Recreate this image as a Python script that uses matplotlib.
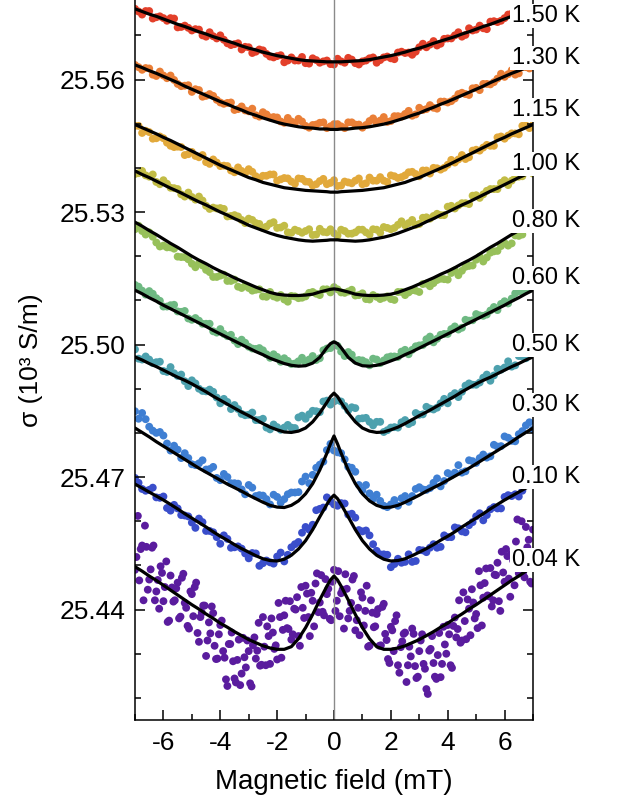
import matplotlib
matplotlib.use('Agg')
import matplotlib.pyplot as plt
from matplotlib.ticker import MultipleLocator

plt.rcParams['font.family'] = ['Liberation Sans', 'DejaVu Sans']
plt.rcParams['axes.unicode_minus'] = False

temps = ['1.50 K', '1.30 K', '1.15 K', '1.00 K', '0.80 K',
         '0.60 K', '0.50 K', '0.30 K', '0.10 K', '0.04 K']
colors = ['#E3402A', '#EA7F37', '#E2A93B', '#C2BC46', '#97C05A',
          '#6EB982', '#4DA1AE', '#3F7FD3', '#3A4ECB', '#5A1C9E']

# measured points (field in mT, sigma in 10^3 S/m), two interleaved sweeps
DOT_X = [-7.0, -6.75, -6.5, -6.25, -6.0, -5.75, -5.5, -5.25, -5.0, -4.75,
         -4.5, -4.25, -4.0, -3.75, -3.5, -3.25, -3.0, -2.75, -2.5, -2.25,
         -2.0, -1.75, -1.5, -1.25, -1.0, -0.75, -0.5, -0.25, 0.0, 0.25,
         0.5, 0.75, 1.0, 1.25, 1.5, 1.75, 2.0, 2.25, 2.5, 2.75,
         3.0, 3.25, 3.5, 3.75, 4.0, 4.25, 4.5, 4.75, 5.0, 5.25,
         5.5, 5.75, 6.0, 6.25, 6.5, 6.75, 7.0]
DOT_X2 = [-6.875, -6.625, -6.375, -6.125, -5.875, -5.625, -5.375, -5.125, -4.875, -4.625,
          -4.375, -4.125, -3.875, -3.625, -3.375, -3.125, -2.875, -2.625, -2.375, -2.125,
          -1.875, -1.625, -1.375, -1.125, -0.875, -0.625, -0.375, -0.125, 0.125, 0.375,
          0.625, 0.875, 1.125, 1.375, 1.625, 1.875, 2.125, 2.375, 2.625, 2.875,
          3.125, 3.375, 3.625, 3.875, 4.125, 4.375, 4.625, 4.875, 5.125, 5.375,
          5.625, 5.875, 6.125, 6.375, 6.625, 6.875]

dots_150 = [25.5760, 25.5747, 25.5755, 25.5741, 25.5739, 25.5739, 25.5718, 25.5722, 25.5711, 25.5713,
            25.5697, 25.5698, 25.5700, 25.5682, 25.5680, 25.5668, 25.5673, 25.5663, 25.5666, 25.5652,
            25.5653, 25.5639, 25.5650, 25.5643, 25.5637, 25.5648, 25.5638, 25.5643, 25.5634, 25.5641,
            25.5649, 25.5637, 25.5641, 25.5648, 25.5638, 25.5650, 25.5648, 25.5661, 25.5660, 25.5656,
            25.5673, 25.5673, 25.5687, 25.5681, 25.5693, 25.5700, 25.5697, 25.5716, 25.5713, 25.5716,
            25.5731, 25.5730, 25.5739, 25.5749, 25.5741, 25.5754, 25.5761]
dots2_150 = [25.5754, 25.5755, 25.5738, 25.5743, 25.5733, 25.5738, 25.5719, 25.5717, 25.5714, 25.5700,
             25.5707, 25.5693, 25.5690, 25.5678, 25.5682, 25.5674, 25.5660, 25.5668, 25.5658, 25.5650,
             25.5655, 25.5643, 25.5643, 25.5651, 25.5636, 25.5644, 25.5641, 25.5635, 25.5647, 25.5638,
             25.5645, 25.5634, 25.5643, 25.5650, 25.5644, 25.5652, 25.5646, 25.5663, 25.5661, 25.5663,
             25.5681, 25.5679, 25.5677, 25.5692, 25.5693, 25.5707, 25.5701, 25.5711, 25.5722, 25.5714,
             25.5732, 25.5733, 25.5747, 25.5745, 25.5754, 25.5748]
dots_130 = [25.5633, 25.5622, 25.5625, 25.5608, 25.5609, 25.5609, 25.5590, 25.5586, 25.5572, 25.5576,
            25.5563, 25.5563, 25.5548, 25.5547, 25.5531, 25.5539, 25.5528, 25.5519, 25.5526, 25.5514,
            25.5514, 25.5502, 25.5505, 25.5511, 25.5495, 25.5497, 25.5502, 25.5490, 25.5499, 25.5494,
            25.5503, 25.5498, 25.5491, 25.5506, 25.5502, 25.5515, 25.5506, 25.5517, 25.5522, 25.5518,
            25.5536, 25.5533, 25.5536, 25.5550, 25.5548, 25.5557, 25.5570, 25.5565, 25.5581, 25.5590,
            25.5589, 25.5602, 25.5606, 25.5621, 25.5614, 25.5628, 25.5631]
dots2_130 = [25.5628, 25.5626, 25.5611, 25.5618, 25.5603, 25.5599, 25.5585, 25.5587, 25.5578, 25.5561,
             25.5567, 25.5554, 25.5545, 25.5548, 25.5533, 25.5530, 25.5534, 25.5516, 25.5521, 25.5515,
             25.5505, 25.5513, 25.5501, 25.5505, 25.5491, 25.5498, 25.5503, 25.5494, 25.5499, 25.5490,
             25.5503, 25.5498, 25.5497, 25.5512, 25.5507, 25.5504, 25.5517, 25.5516, 25.5529, 25.5521,
             25.5531, 25.5542, 25.5534, 25.5550, 25.5551, 25.5567, 25.5567, 25.5580, 25.5576, 25.5590,
             25.5594, 25.5613, 25.5612, 25.5611, 25.5628, 25.5625]
dots_115 = [25.5495, 25.5479, 25.5481, 25.5467, 25.5467, 25.5450, 25.5448, 25.5429, 25.5436, 25.5424,
            25.5413, 25.5419, 25.5404, 25.5404, 25.5390, 25.5393, 25.5397, 25.5381, 25.5382, 25.5385,
            25.5371, 25.5377, 25.5369, 25.5376, 25.5369, 25.5360, 25.5370, 25.5363, 25.5372, 25.5360,
            25.5367, 25.5371, 25.5363, 25.5378, 25.5371, 25.5371, 25.5383, 25.5377, 25.5383, 25.5391,
            25.5381, 25.5394, 25.5400, 25.5396, 25.5407, 25.5412, 25.5429, 25.5424, 25.5441, 25.5446,
            25.5450, 25.5469, 25.5466, 25.5478, 25.5476, 25.5496, 25.5497]
dots2_115 = [25.5495, 25.5484, 25.5466, 25.5471, 25.5457, 25.5447, 25.5447, 25.5431, 25.5427, 25.5429,
             25.5409, 25.5412, 25.5405, 25.5394, 25.5401, 25.5388, 25.5391, 25.5376, 25.5382, 25.5385,
             25.5374, 25.5376, 25.5364, 25.5375, 25.5368, 25.5363, 25.5375, 25.5366, 25.5359, 25.5369,
             25.5365, 25.5376, 25.5365, 25.5371, 25.5379, 25.5368, 25.5381, 25.5379, 25.5390, 25.5386,
             25.5394, 25.5387, 25.5399, 25.5400, 25.5418, 25.5419, 25.5420, 25.5439, 25.5439, 25.5452,
             25.5450, 25.5471, 25.5473, 25.5478, 25.5495, 25.5490]
dots_100 = [25.5386, 25.5393, 25.5380, 25.5368, 25.5372, 25.5355, 25.5352, 25.5335, 25.5334, 25.5335,
            25.5314, 25.5310, 25.5309, 25.5290, 25.5293, 25.5282, 25.5285, 25.5275, 25.5264, 25.5274,
            25.5264, 25.5269, 25.5253, 25.5257, 25.5257, 25.5248, 25.5262, 25.5254, 25.5252, 25.5260,
            25.5251, 25.5254, 25.5260, 25.5249, 25.5260, 25.5266, 25.5261, 25.5271, 25.5270, 25.5282,
            25.5273, 25.5288, 25.5291, 25.5293, 25.5312, 25.5308, 25.5320, 25.5318, 25.5338, 25.5340,
            25.5352, 25.5352, 25.5372, 25.5371, 25.5380, 25.5394, 25.5387]
dots2_100 = [25.5388, 25.5383, 25.5385, 25.5363, 25.5364, 25.5354, 25.5340, 25.5344, 25.5328, 25.5326,
             25.5307, 25.5308, 25.5307, 25.5291, 25.5290, 25.5275, 25.5282, 25.5273, 25.5267, 25.5277,
             25.5265, 25.5254, 25.5260, 25.5253, 25.5261, 25.5249, 25.5255, 25.5261, 25.5247, 25.5257,
             25.5251, 25.5260, 25.5254, 25.5261, 25.5253, 25.5264, 25.5264, 25.5279, 25.5275, 25.5271,
             25.5287, 25.5285, 25.5296, 25.5293, 25.5314, 25.5315, 25.5320, 25.5337, 25.5332, 25.5348,
             25.5352, 25.5366, 25.5361, 25.5379, 25.5381, 25.5400]
dots_080 = [25.5261, 25.5257, 25.5254, 25.5231, 25.5224, 25.5220, 25.5199, 25.5198, 25.5183, 25.5184,
            25.5169, 25.5153, 25.5156, 25.5144, 25.5147, 25.5128, 25.5128, 25.5124, 25.5109, 25.5119,
            25.5106, 25.5102, 25.5110, 25.5105, 25.5109, 25.5119, 25.5112, 25.5125, 25.5130, 25.5118,
            25.5120, 25.5111, 25.5116, 25.5102, 25.5108, 25.5106, 25.5103, 25.5119, 25.5112, 25.5123,
            25.5119, 25.5138, 25.5139, 25.5149, 25.5147, 25.5168, 25.5167, 25.5178, 25.5192, 25.5188,
            25.5208, 25.5212, 25.5230, 25.5229, 25.5246, 25.5264, 25.5263]
dots2_080 = [25.5269, 25.5249, 25.5244, 25.5222, 25.5220, 25.5217, 25.5198, 25.5193, 25.5175, 25.5179,
             25.5164, 25.5153, 25.5158, 25.5144, 25.5131, 25.5133, 25.5122, 25.5125, 25.5108, 25.5109,
             25.5112, 25.5097, 25.5109, 25.5106, 25.5117, 25.5115, 25.5125, 25.5118, 25.5125, 25.5117,
             25.5124, 25.5112, 25.5103, 25.5112, 25.5103, 25.5109, 25.5101, 25.5119, 25.5118, 25.5122,
             25.5137, 25.5132, 25.5146, 25.5148, 25.5162, 25.5157, 25.5176, 25.5179, 25.5199, 25.5197,
             25.5211, 25.5223, 25.5224, 25.5247, 25.5249, 25.5263]
dots_060 = [25.5135, 25.5122, 25.5121, 25.5105, 25.5086, 25.5089, 25.5075, 25.5076, 25.5056, 25.5054,
            25.5047, 25.5030, 25.5035, 25.5019, 25.5009, 25.5011, 25.4995, 25.4990, 25.4987, 25.4970,
            25.4972, 25.4969, 25.4956, 25.4962, 25.4960, 25.4974, 25.4969, 25.4991, 25.5001, 25.4984,
            25.4983, 25.4964, 25.4964, 25.4953, 25.4966, 25.4964, 25.4973, 25.4972, 25.4988, 25.4988,
            25.4998, 25.5012, 25.5005, 25.5022, 25.5024, 25.5041, 25.5038, 25.5054, 25.5069, 25.5065,
            25.5077, 25.5078, 25.5098, 25.5104, 25.5121, 25.5122, 25.5135]
dots2_060 = [25.5131, 25.5113, 25.5115, 25.5099, 25.5086, 25.5090, 25.5074, 25.5059, 25.5060, 25.5047,
             25.5047, 25.5027, 25.5024, 25.5022, 25.5001, 25.5004, 25.4991, 25.4992, 25.4978, 25.4978,
             25.4961, 25.4963, 25.4957, 25.4970, 25.4966, 25.4965, 25.4987, 25.4992, 25.4997, 25.4974,
             25.4977, 25.4965, 25.4960, 25.4968, 25.4958, 25.4971, 25.4973, 25.4984, 25.4978, 25.4996,
             25.4999, 25.5018, 25.5013, 25.5024, 25.5035, 25.5034, 25.5056, 25.5055, 25.5066, 25.5068,
             25.5085, 25.5092, 25.5093, 25.5116, 25.5120, 25.5126]
dots_050 = [25.4989, 25.4966, 25.4966, 25.4960, 25.4940, 25.4949, 25.4929, 25.4917, 25.4919, 25.4900,
            25.4894, 25.4893, 25.4867, 25.4870, 25.4863, 25.4843, 25.4841, 25.4829, 25.4832, 25.4808,
            25.4813, 25.4812, 25.4812, 25.4835, 25.4832, 25.4850, 25.4847, 25.4873, 25.4871, 25.4871,
            25.4851, 25.4856, 25.4833, 25.4825, 25.4825, 25.4802, 25.4812, 25.4812, 25.4829, 25.4824,
            25.4841, 25.4859, 25.4853, 25.4867, 25.4867, 25.4890, 25.4893, 25.4912, 25.4909, 25.4925,
            25.4918, 25.4945, 25.4948, 25.4950, 25.4974, 25.4969, 25.4984]
dots2_050 = [25.4968, 25.4973, 25.4958, 25.4961, 25.4938, 25.4935, 25.4932, 25.4906, 25.4912, 25.4895,
             25.4898, 25.4880, 25.4877, 25.4854, 25.4854, 25.4840, 25.4846, 25.4829, 25.4812, 25.4819,
             25.4807, 25.4818, 25.4811, 25.4839, 25.4842, 25.4849, 25.4871, 25.4864, 25.4874, 25.4861,
             25.4858, 25.4832, 25.4834, 25.4817, 25.4825, 25.4806, 25.4813, 25.4824, 25.4820, 25.4845,
             25.4842, 25.4855, 25.4857, 25.4877, 25.4884, 25.4881, 25.4907, 25.4909, 25.4914, 25.4932,
             25.4930, 25.4943, 25.4962, 25.4953, 25.4973, 25.4977]
dots_030 = [25.4849, 25.4845, 25.4814, 25.4800, 25.4794, 25.4760, 25.4762, 25.4754, 25.4729, 25.4731,
            25.4717, 25.4723, 25.4693, 25.4700, 25.4686, 25.4672, 25.4682, 25.4657, 25.4658, 25.4638,
            25.4655, 25.4650, 25.4665, 25.4666, 25.4701, 25.4705, 25.4728, 25.4761, 25.4760, 25.4754,
            25.4723, 25.4712, 25.4670, 25.4663, 25.4660, 25.4635, 25.4638, 25.4635, 25.4657, 25.4657,
            25.4677, 25.4671, 25.4687, 25.4679, 25.4709, 25.4710, 25.4710, 25.4738, 25.4732, 25.4751,
            25.4747, 25.4769, 25.4792, 25.4782, 25.4797, 25.4817, 25.4808]
dots2_030 = [25.4832, 25.4831, 25.4805, 25.4802, 25.4776, 25.4771, 25.4743, 25.4743, 25.4727, 25.4738,
             25.4718, 25.4698, 25.4707, 25.4686, 25.4685, 25.4661, 25.4676, 25.4659, 25.4650, 25.4660,
             25.4642, 25.4661, 25.4665, 25.4690, 25.4686, 25.4721, 25.4735, 25.4775, 25.4756, 25.4740,
             25.4721, 25.4682, 25.4682, 25.4651, 25.4646, 25.4632, 25.4648, 25.4652, 25.4644, 25.4673,
             25.4672, 25.4675, 25.4697, 25.4691, 25.4704, 25.4727, 25.4713, 25.4736, 25.4743, 25.4744,
             25.4773, 25.4770, 25.4789, 25.4781, 25.4804, 25.4824]
dots_010 = [25.4698, 25.4673, 25.4671, 25.4654, 25.4656, 25.4624, 25.4629, 25.4613, 25.4597, 25.4606,
            25.4578, 25.4575, 25.4549, 25.4560, 25.4541, 25.4538, 25.4516, 25.4527, 25.4505, 25.4507,
            25.4520, 25.4509, 25.4541, 25.4553, 25.4587, 25.4592, 25.4628, 25.4654, 25.4638, 25.4641,
            25.4615, 25.4608, 25.4577, 25.4568, 25.4533, 25.4525, 25.4496, 25.4515, 25.4508, 25.4508,
            25.4535, 25.4530, 25.4548, 25.4542, 25.4564, 25.4586, 25.4577, 25.4591, 25.4611, 25.4602,
            25.4627, 25.4629, 25.4655, 25.4657, 25.4656, 25.4687, 25.4689]
dots2_010 = [25.4687, 25.4669, 25.4676, 25.4653, 25.4630, 25.4637, 25.4614, 25.4611, 25.4585, 25.4598,
             25.4578, 25.4564, 25.4568, 25.4540, 25.4543, 25.4527, 25.4528, 25.4499, 25.4511, 25.4504,
             25.4529, 25.4524, 25.4548, 25.4574, 25.4581, 25.4625, 25.4631, 25.4645, 25.4635, 25.4640,
             25.4617, 25.4580, 25.4579, 25.4548, 25.4525, 25.4524, 25.4503, 25.4506, 25.4525, 25.4510,
             25.4534, 25.4540, 25.4540, 25.4568, 25.4564, 25.4584, 25.4575, 25.4598, 25.4618, 25.4614,
             25.4632, 25.4629, 25.4659, 25.4661, 25.4669, 25.4701]

X_004 = [-7.0, -6.9, -6.8, -6.7, -6.6, -6.5, -6.4, -6.3, -6.2, -6.1,
         -6.0, -5.9, -5.8, -5.7, -5.6, -5.5, -5.4, -5.3, -5.2, -5.1,
         -5.0, -4.9, -4.8, -4.7, -4.6, -4.5, -4.4, -4.3, -4.2, -4.1,
         -4.0, -3.9, -3.8, -3.7, -3.6, -3.5, -3.4, -3.3, -3.2, -3.1,
         -3.0, -2.9, -2.8, -2.7, -2.6, -2.5, -2.4, -2.3, -2.2, -2.1,
         -2.0, -1.9, -1.8, -1.7, -1.6, -1.5, -1.4, -1.3, -1.2, -1.1,
         -1.0, -0.9, -0.8, -0.7, -0.6, -0.5, -0.4, -0.3, -0.2, -0.1,
         0.0, 0.1, 0.2, 0.3, 0.4, 0.5, 0.6, 0.7, 0.8, 0.9,
         1.0, 1.1, 1.2, 1.3, 1.4, 1.5, 1.6, 1.7, 1.8, 1.9,
         2.0, 2.1, 2.2, 2.3, 2.4, 2.5, 2.6, 2.7, 2.8, 2.9,
         3.0, 3.1, 3.2, 3.3, 3.4, 3.5, 3.6, 3.7, 3.8, 3.9,
         4.0, 4.1, 4.2, 4.3, 4.4, 4.5, 4.6, 4.7, 4.8, 4.9,
         5.0, 5.1, 5.2, 5.3, 5.4, 5.5, 5.6, 5.7, 5.8, 5.9,
         6.0, 6.1, 6.2, 6.3, 6.4, 6.5, 6.6, 6.7, 6.8, 6.9,
         7.0]
dots_004 = [25.4490, 25.4612, 25.4537, 25.4421, 25.4542, 25.4468, 25.4540, 25.4421, 25.4467, 25.4498,
            25.4419, 25.4509, 25.4375, 25.4450, 25.4421, 25.4461, 25.4384, 25.4481, 25.4404, 25.4357,
            25.4435, 25.4451, 25.4347, 25.4383, 25.4409, 25.4295, 25.4371, 25.4407, 25.4318, 25.4289,
            25.4365, 25.4306, 25.4242, 25.4322, 25.4348, 25.4244, 25.4286, 25.4229, 25.4336, 25.4269,
            25.4306, 25.4226, 25.4337, 25.4307, 25.4273, 25.4383, 25.4274, 25.4340, 25.4380, 25.4311,
            25.4287, 25.4383, 25.4354, 25.4420, 25.4356, 25.4332, 25.4402, 25.4428, 25.4318, 25.4404,
            25.4454, 25.4383, 25.4438, 25.4362, 25.4482, 25.4416, 25.4395, 25.4469, 25.4447, 25.4376,
            25.4490, 25.4420, 25.4385, 25.4445, 25.4480, 25.4380, 25.4415, 25.4476, 25.4376, 25.4342,
            25.4427, 25.4397, 25.4316, 25.4421, 25.4360, 25.4390, 25.4318, 25.4406, 25.4345, 25.4288,
            25.4361, 25.4306, 25.4387, 25.4257, 25.4328, 25.4348, 25.4274, 25.4294, 25.4345, 25.4245,
            25.4306, 25.4344, 25.4266, 25.4209, 25.4311, 25.4279, 25.4243, 25.4347, 25.4277, 25.4321,
            25.4365, 25.4274, 25.4363, 25.4337, 25.4421, 25.4330, 25.4374, 25.4423, 25.4342, 25.4416,
            25.4390, 25.4487, 25.4364, 25.4460, 25.4432, 25.4494, 25.4421, 25.4478, 25.4419, 25.4531,
            25.4463, 25.4521, 25.4429, 25.4511, 25.4554, 25.4482, 25.4600, 25.4473, 25.4541, 25.4463,
            25.4581]
X2_004 = [-6.95, -6.85, -6.75, -6.65, -6.55, -6.45, -6.35, -6.25, -6.15, -6.05,
          -5.95, -5.85, -5.75, -5.65, -5.55, -5.45, -5.35, -5.25, -5.15, -5.05,
          -4.95, -4.85, -4.75, -4.65, -4.55, -4.45, -4.35, -4.25, -4.15, -4.05,
          -3.95, -3.85, -3.75, -3.65, -3.55, -3.45, -3.35, -3.25, -3.15, -3.05,
          -2.95, -2.85, -2.75, -2.65, -2.55, -2.45, -2.35, -2.25, -2.15, -2.05,
          -1.95, -1.85, -1.75, -1.65, -1.55, -1.45, -1.35, -1.25, -1.15, -1.05,
          -0.95, -0.85, -0.75, -0.65, -0.55, -0.45, -0.35, -0.25, -0.15, -0.05,
          0.05, 0.15, 0.25, 0.35, 0.45, 0.55, 0.65, 0.75, 0.85, 0.95,
          1.05, 1.15, 1.25, 1.35, 1.45, 1.55, 1.65, 1.75, 1.85, 1.95,
          2.05, 2.15, 2.25, 2.35, 2.45, 2.55, 2.65, 2.75, 2.85, 2.95,
          3.05, 3.15, 3.25, 3.35, 3.45, 3.55, 3.65, 3.75, 3.85, 3.95,
          4.05, 4.15, 4.25, 4.35, 4.45, 4.55, 4.65, 4.75, 4.85, 4.95,
          5.05, 5.15, 5.25, 5.35, 5.45, 5.55, 5.65, 5.75, 5.85, 5.95,
          6.05, 6.15, 6.25, 6.35, 6.45, 6.55, 6.65, 6.75, 6.85, 6.95]
dots2_004 = [25.4519, 25.4466, 25.4545, 25.4590, 25.4445, 25.4491, 25.4545, 25.4441, 25.4402, 25.4483,
             25.4451, 25.4372, 25.4477, 25.4418, 25.4448, 25.4380, 25.4472, 25.4415, 25.4363, 25.4441,
             25.4385, 25.4461, 25.4327, 25.4393, 25.4409, 25.4330, 25.4346, 25.4392, 25.4288, 25.4344,
             25.4375, 25.4291, 25.4227, 25.4322, 25.4283, 25.4235, 25.4332, 25.4255, 25.4292, 25.4330,
             25.4233, 25.4319, 25.4289, 25.4370, 25.4275, 25.4316, 25.4362, 25.4277, 25.4348, 25.4319,
             25.4415, 25.4291, 25.4387, 25.4358, 25.4419, 25.4344, 25.4400, 25.4340, 25.4451, 25.4381,
             25.4436, 25.4340, 25.4420, 25.4459, 25.4394, 25.4478, 25.4387, 25.4435, 25.4379, 25.4463,
             25.4397, 25.4487, 25.4437, 25.4357, 25.4447, 25.4397, 25.4468, 25.4353, 25.4404, 25.4439,
             25.4364, 25.4454, 25.4318, 25.4393, 25.4362, 25.4401, 25.4319, 25.4413, 25.4331, 25.4279,
             25.4353, 25.4374, 25.4274, 25.4315, 25.4345, 25.4236, 25.4316, 25.4357, 25.4272, 25.4248,
             25.4330, 25.4277, 25.4220, 25.4307, 25.4340, 25.4248, 25.4297, 25.4247, 25.4361, 25.4300,
             25.4344, 25.4268, 25.4382, 25.4356, 25.4325, 25.4439, 25.4333, 25.4402, 25.4446, 25.4380,
             25.4358, 25.4455, 25.4427, 25.4493, 25.4430, 25.4407, 25.4479, 25.4506, 25.4397, 25.4484,
             25.4537, 25.4470, 25.4527, 25.4455, 25.4604, 25.4513, 25.4484, 25.4587, 25.4558, 25.4459]

# fitted curves
X_FIT = [-7.0, -6.75, -6.5, -6.25, -6.0, -5.75, -5.5, -5.25, -5.0, -4.75,
         -4.5, -4.25, -4.0, -3.75, -3.5, -3.25, -3.0, -2.75, -2.5, -2.25,
         -2.0, -1.75, -1.5, -1.25, -1.0, -0.75, -0.5, -0.25, -0.125, 0.0,
         0.125, 0.25, 0.5, 0.75, 1.0, 1.25, 1.5, 1.75, 2.0, 2.25,
         2.5, 2.75, 3.0, 3.25, 3.5, 3.75, 4.0, 4.25, 4.5, 4.75,
         5.0, 5.25, 5.5, 5.75, 6.0, 6.25, 6.5, 6.75, 7.0]
fit_150 = [25.5760, 25.5754, 25.5748, 25.5743, 25.5737, 25.5731, 25.5725, 25.5720, 25.5714, 25.5708,
           25.5703, 25.5697, 25.5692, 25.5687, 25.5682, 25.5676, 25.5671, 25.5667, 25.5662, 25.5658,
           25.5654, 25.5651, 25.5648, 25.5645, 25.5643, 25.5642, 25.5641, 25.5640, 25.5640, 25.5640,
           25.5640, 25.5640, 25.5641, 25.5642, 25.5643, 25.5645, 25.5648, 25.5651, 25.5654, 25.5658,
           25.5662, 25.5667, 25.5671, 25.5676, 25.5682, 25.5687, 25.5692, 25.5697, 25.5703, 25.5708,
           25.5714, 25.5720, 25.5725, 25.5731, 25.5737, 25.5743, 25.5748, 25.5754, 25.5760]
fit_130 = [25.5633, 25.5627, 25.5620, 25.5614, 25.5607, 25.5600, 25.5593, 25.5585, 25.5578, 25.5571,
           25.5564, 25.5557, 25.5550, 25.5544, 25.5537, 25.5531, 25.5524, 25.5519, 25.5513, 25.5508,
           25.5503, 25.5499, 25.5496, 25.5493, 25.5491, 25.5490, 25.5488, 25.5488, 25.5487, 25.5487,
           25.5487, 25.5488, 25.5488, 25.5490, 25.5491, 25.5493, 25.5496, 25.5499, 25.5503, 25.5508,
           25.5513, 25.5519, 25.5524, 25.5531, 25.5537, 25.5544, 25.5550, 25.5557, 25.5564, 25.5571,
           25.5578, 25.5585, 25.5593, 25.5600, 25.5607, 25.5614, 25.5620, 25.5627, 25.5633]
fit_115 = [25.5498, 25.5491, 25.5484, 25.5477, 25.5469, 25.5462, 25.5454, 25.5446, 25.5438, 25.5430,
           25.5422, 25.5414, 25.5406, 25.5399, 25.5392, 25.5385, 25.5378, 25.5373, 25.5367, 25.5363,
           25.5359, 25.5355, 25.5353, 25.5351, 25.5349, 25.5348, 25.5347, 25.5346, 25.5345, 25.5345,
           25.5345, 25.5346, 25.5347, 25.5348, 25.5349, 25.5351, 25.5353, 25.5355, 25.5359, 25.5363,
           25.5367, 25.5373, 25.5378, 25.5385, 25.5392, 25.5399, 25.5406, 25.5414, 25.5422, 25.5430,
           25.5438, 25.5446, 25.5454, 25.5462, 25.5469, 25.5477, 25.5484, 25.5491, 25.5498]
fit_100 = [25.5393, 25.5385, 25.5378, 25.5370, 25.5362, 25.5354, 25.5347, 25.5339, 25.5331, 25.5323,
           25.5316, 25.5308, 25.5300, 25.5293, 25.5285, 25.5278, 25.5270, 25.5264, 25.5258, 25.5252,
           25.5247, 25.5243, 25.5240, 25.5237, 25.5235, 25.5234, 25.5235, 25.5236, 25.5237, 25.5237,
           25.5237, 25.5236, 25.5235, 25.5234, 25.5235, 25.5237, 25.5240, 25.5243, 25.5247, 25.5252,
           25.5258, 25.5264, 25.5270, 25.5278, 25.5285, 25.5293, 25.5300, 25.5308, 25.5316, 25.5323,
           25.5331, 25.5339, 25.5347, 25.5354, 25.5362, 25.5370, 25.5378, 25.5385, 25.5393]
fit_080 = [25.5277, 25.5268, 25.5258, 25.5249, 25.5239, 25.5229, 25.5220, 25.5210, 25.5200, 25.5191,
           25.5183, 25.5174, 25.5166, 25.5159, 25.5151, 25.5144, 25.5137, 25.5130, 25.5124, 25.5118,
           25.5114, 25.5112, 25.5111, 25.5111, 25.5112, 25.5114, 25.5119, 25.5123, 25.5125, 25.5126,
           25.5125, 25.5123, 25.5119, 25.5114, 25.5112, 25.5111, 25.5111, 25.5112, 25.5114, 25.5118,
           25.5124, 25.5130, 25.5137, 25.5144, 25.5151, 25.5159, 25.5166, 25.5174, 25.5183, 25.5191,
           25.5200, 25.5210, 25.5220, 25.5229, 25.5239, 25.5249, 25.5258, 25.5268, 25.5277]
fit_060 = [25.5123, 25.5115, 25.5106, 25.5098, 25.5089, 25.5081, 25.5073, 25.5065, 25.5057, 25.5049,
           25.5041, 25.5032, 25.5024, 25.5016, 25.5008, 25.5000, 25.4992, 25.4984, 25.4977, 25.4969,
           25.4963, 25.4957, 25.4953, 25.4951, 25.4952, 25.4958, 25.4971, 25.4993, 25.5002, 25.5006,
           25.5002, 25.4993, 25.4971, 25.4958, 25.4952, 25.4951, 25.4953, 25.4957, 25.4963, 25.4969,
           25.4977, 25.4984, 25.4992, 25.5000, 25.5008, 25.5016, 25.5024, 25.5032, 25.5041, 25.5049,
           25.5057, 25.5065, 25.5073, 25.5081, 25.5089, 25.5098, 25.5106, 25.5115, 25.5123]
fit_050 = [25.4972, 25.4965, 25.4957, 25.4950, 25.4942, 25.4934, 25.4926, 25.4919, 25.4911, 25.4902,
           25.4893, 25.4883, 25.4874, 25.4865, 25.4856, 25.4847, 25.4839, 25.4830, 25.4821, 25.4813,
           25.4807, 25.4802, 25.4801, 25.4804, 25.4811, 25.4825, 25.4845, 25.4869, 25.4882, 25.4890,
           25.4882, 25.4869, 25.4845, 25.4825, 25.4811, 25.4804, 25.4801, 25.4802, 25.4807, 25.4813,
           25.4821, 25.4830, 25.4839, 25.4847, 25.4856, 25.4865, 25.4874, 25.4883, 25.4893, 25.4902,
           25.4911, 25.4919, 25.4926, 25.4934, 25.4942, 25.4950, 25.4957, 25.4965, 25.4972]
fit_030 = [25.4811, 25.4801, 25.4791, 25.4780, 25.4770, 25.4760, 25.4750, 25.4740, 25.4730, 25.4720,
           25.4711, 25.4702, 25.4693, 25.4684, 25.4676, 25.4668, 25.4659, 25.4651, 25.4643, 25.4636,
           25.4632, 25.4631, 25.4636, 25.4646, 25.4662, 25.4685, 25.4716, 25.4754, 25.4775, 25.4793,
           25.4775, 25.4754, 25.4716, 25.4685, 25.4662, 25.4646, 25.4636, 25.4631, 25.4632, 25.4636,
           25.4643, 25.4651, 25.4659, 25.4668, 25.4676, 25.4684, 25.4693, 25.4702, 25.4711, 25.4720,
           25.4730, 25.4740, 25.4750, 25.4760, 25.4770, 25.4780, 25.4791, 25.4801, 25.4811]
fit_010 = [25.4684, 25.4675, 25.4666, 25.4657, 25.4648, 25.4638, 25.4628, 25.4617, 25.4607, 25.4597,
           25.4587, 25.4576, 25.4566, 25.4557, 25.4547, 25.4538, 25.4530, 25.4522, 25.4515, 25.4511,
           25.4510, 25.4514, 25.4523, 25.4537, 25.4556, 25.4581, 25.4610, 25.4638, 25.4651, 25.4659,
           25.4651, 25.4638, 25.4610, 25.4581, 25.4556, 25.4537, 25.4523, 25.4514, 25.4510, 25.4511,
           25.4515, 25.4522, 25.4530, 25.4538, 25.4547, 25.4557, 25.4566, 25.4576, 25.4587, 25.4597,
           25.4607, 25.4617, 25.4628, 25.4638, 25.4648, 25.4657, 25.4666, 25.4675, 25.4684]
fit_004 = [25.4497, 25.4487, 25.4476, 25.4466, 25.4455, 25.4444, 25.4433, 25.4422, 25.4411, 25.4401,
           25.4390, 25.4380, 25.4369, 25.4360, 25.4350, 25.4341, 25.4332, 25.4325, 25.4318, 25.4313,
           25.4310, 25.4310, 25.4316, 25.4334, 25.4359, 25.4389, 25.4422, 25.4453, 25.4467, 25.4476,
           25.4467, 25.4453, 25.4422, 25.4389, 25.4359, 25.4334, 25.4316, 25.4310, 25.4310, 25.4313,
           25.4318, 25.4325, 25.4332, 25.4341, 25.4350, 25.4360, 25.4369, 25.4380, 25.4390, 25.4401,
           25.4411, 25.4422, 25.4433, 25.4444, 25.4455, 25.4466, 25.4476, 25.4487, 25.4497]

# where each temperature label sits (sigma units)
label_y = [25.5744, 25.5649, 25.5531, 25.5409, 25.5280,
           25.5151, 25.4999, 25.4863, 25.4700, 25.4512]

dot_sets = [(dots_150, dots2_150), (dots_130, dots2_130), (dots_115, dots2_115),
            (dots_100, dots2_100), (dots_080, dots2_080), (dots_060, dots2_060),
            (dots_050, dots2_050), (dots_030, dots2_030), (dots_010, dots2_010)]
fits = [fit_150, fit_130, fit_115, fit_100, fit_080,
        fit_060, fit_050, fit_030, fit_010, fit_004]

fig = plt.figure(figsize=(6.23, 8.06), dpi=100)
ax = fig.add_axes([135/623, 1 - 720/806, 398/623, 720/806])

for (d1, d2), c in zip(dot_sets, colors[:9]):
    ax.scatter(DOT_X, d1, s=32, color=c, edgecolors='none', zorder=1)
    ax.scatter(DOT_X2, d2, s=32, color=c, edgecolors='none', zorder=1)
ax.scatter(X_004, dots_004, s=32, color=colors[9], edgecolors='none', zorder=1)
ax.scatter(X2_004, dots2_004, s=32, color=colors[9], edgecolors='none', zorder=1)

ax.axvline(0, color='#8a8a8a', lw=1.0, zorder=2)

for fit in fits:
    ax.plot(X_FIT, fit, color='black', lw=2.3, zorder=3,
            solid_joinstyle='round', solid_capstyle='round')

for t, y in zip(temps, label_y):
    ax.text(6.25, y, t, fontsize=17, ha='left', va='center', zorder=6,
            bbox=dict(facecolor='white', edgecolor='none', pad=0.8))

ax.set_xlim(-7, 7)
ax.set_ylim(25.4150, 25.5780)
ax.xaxis.set_major_locator(MultipleLocator(2))
ax.xaxis.set_minor_locator(MultipleLocator(1))
ax.yaxis.set_major_locator(MultipleLocator(0.03))
ax.yaxis.set_minor_locator(MultipleLocator(0.01))
ax.yaxis.set_major_formatter(plt.FormatStrFormatter('%.2f'))

ax.spines['top'].set_visible(False)
for s in ['left', 'right', 'bottom']:
    ax.spines[s].set_linewidth(1.1)
ax.tick_params(which='both', direction='in', right=True, top=False,
               width=1.1, labelsize=19)
ax.tick_params(which='major', length=7)
ax.tick_params(which='minor', length=4)
ax.tick_params(axis='y', pad=7)
ax.tick_params(axis='x', pad=8)

ax.set_xlabel('Magnetic field (mT)', fontsize=20, labelpad=10)
ax.set_ylabel('σ (10³ S/m)', fontsize=19, labelpad=12)

fig.savefig('out.png', dpi=100)
